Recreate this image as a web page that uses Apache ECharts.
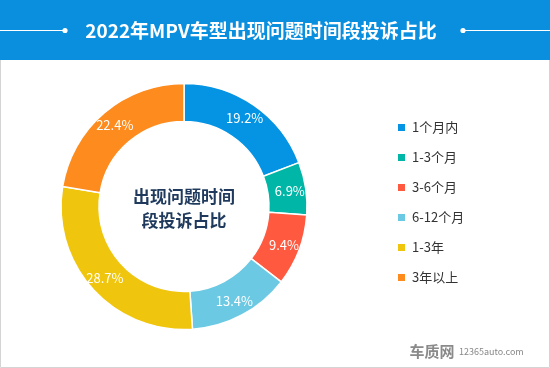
<!DOCTYPE html>
<html><head><meta charset="utf-8">
<script src="https://cdn.jsdelivr.net/npm/echarts@6/dist/echarts.min.js"></script>
<style>html,body{margin:0;padding:0;background:#fff}#c{width:550px;height:368px}</style>
</head><body><div id="c"></div>
<script>
var categories = ['1个月内','1-3个月','3-6个月','6-12个月','1-3年','3年以上'];
var values = [19.2, 6.9, 9.4, 13.4, 28.7, 22.4];
var colors = ['#0593e3','#00b6a6','#ff5a40','#6bc9e3','#f0c50e','#fd8b1d'];
var titleText = '2022年MPV车型出现问题时间段投诉占比';
var centerText = '出现问题时间\n段投诉占比';

var chart = echarts.init(document.getElementById('c'), null, {renderer:'canvas'});
var FONT = '"Microsoft YaHei","Noto Sans CJK SC",sans-serif';
chart.setOption({
  backgroundColor:'#fff',
  animation:false,
  color: colors,
  graphic:[
    {type:'rect', shape:{x:0.5,y:0.5,width:549,height:367}, style:{fill:'#fff',stroke:'#d4d4d4',lineWidth:1}, z:0},
    {type:'rect', shape:{x:0,y:0,width:550,height:60}, style:{fill:'#0a8fdf'}, z:1},
    {type:'line', shape:{x1:0,y1:30.5,x2:64,y2:30.5}, style:{stroke:'#fff',lineWidth:1.2}, z:2},
    {type:'circle', shape:{cx:65,cy:30.5,r:2.6}, style:{fill:'#fff'}, z:2},
    {type:'line', shape:{x1:464,y1:30.5,x2:550,y2:30.5}, style:{stroke:'#fff',lineWidth:1.2}, z:2},
    {type:'circle', shape:{cx:463,cy:30.5,r:2.6}, style:{fill:'#fff'}, z:2},
    {type:'text', x:261, y:31, style:{text:titleText, fill:'#fff', font:'bold 19px '+FONT, textAlign:'center', textVerticalAlign:'middle'}, z:3},
    {type:'text', x:184, y:209, style:{text:centerText, fill:'#1f3a5c', font:'bold 17px '+FONT, textAlign:'center', textVerticalAlign:'middle', lineHeight:24}, z:3},
    {type:'text', x:432, y:351, style:{text:'车质网', fill:'#8a8a8a', font:'bold 15px '+FONT, textAlign:'center', textVerticalAlign:'middle'}, z:3},
    {type:'text', x:459, y:352, style:{text:'12365auto.com', fill:'#888', font:'9px '+FONT, textAlign:'left', textVerticalAlign:'middle'}, z:3}
  ],
  legend:{
    orient:'vertical', left:391, top:116, itemWidth:9, itemHeight:9, itemGap:17, icon:'rect',
    textStyle:{fontSize:13, color:'#333', fontFamily:FONT, padding:[0,0,0,1]},
    data: categories
  },
  series:[{
    type:'pie', center:[184,206.5], radius:[85,123], startAngle:90, clockwise:true,
    itemStyle:{borderColor:'#fff', borderWidth:1.5},
    label:{show:true, position:'inside', color:'#fff', fontSize:13, fontFamily:FONT, formatter:function(p){return p.value.toFixed(1)+'%';}},
    labelLine:{show:false},
    emphasis:{disabled:true},
    data: categories.map(function(c,i){return {name:c, value:values[i]};})
  }]
});
</script></body></html>
